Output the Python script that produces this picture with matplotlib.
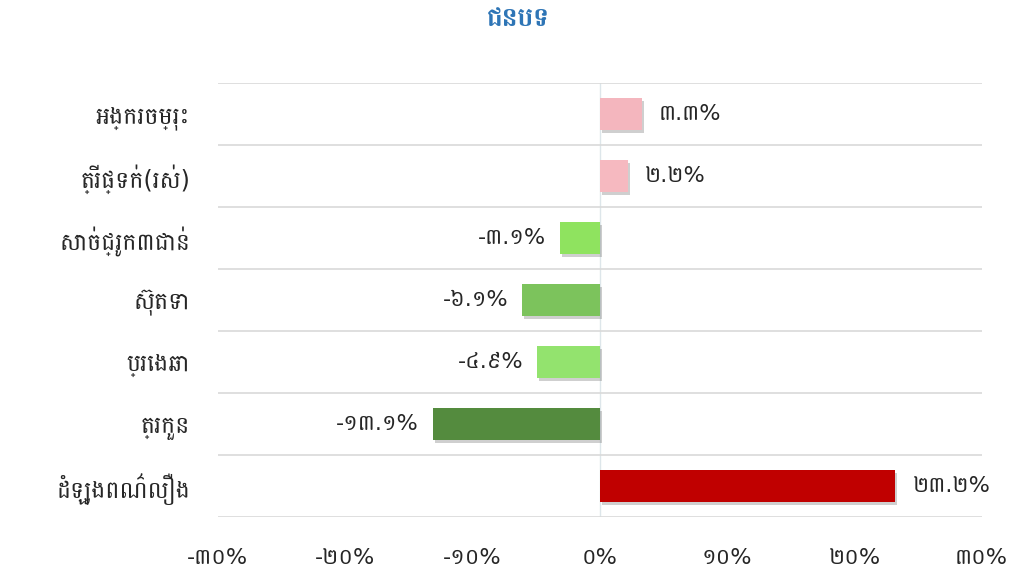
import matplotlib
matplotlib.use("Agg")
import matplotlib.pyplot as plt
import matplotlib.patheffects as pe
from matplotlib import font_manager
from matplotlib.ft2font import FT2Font
import numpy as np

# Data
categories = ["អង្ករចម្រុះ", "ត្រីផ្ទក់(រស់)", "សាច់ជ្រូក៣ជាន់", "ស៊ុតទា",
              "ប្រេងឆា", "ត្រកួន", "ដំឡូងពណ៌លឿង"]
values = [3.3, 2.2, -3.1, -6.1, -4.9, -13.1, 23.2]
value_labels = ["៣.៣%", "២.២%", "-៣.១%", "-៦.១%", "-៤.៩%", "-១៣.១%", "២៣.២%"]
bar_colors = ["#f4b6be", "#f6b9c0", "#8fe35f", "#7cc35c", "#93e36e", "#548b3e", "#c00000"]
tick_values = [-30, -20, -10, 0, 10, 20, 30]
tick_labels = ["-៣០%", "-២០%", "-១០%", "០%", "១០%", "២០%", "៣០%"]
title = "ជនបទ"


# pick a font with Khmer glyphs, Battambang if it is there
def find_khmer_font():
    names = []
    for f in font_manager.fontManager.ttflist:
        try:
            if 0x1780 in FT2Font(f.fname).get_charmap():
                names.append(f.name)
        except Exception:
            pass
    for want in ["Battambang", "Noto Sans Khmer", "Khmer OS", "Hanuman", "Angkor"]:
        if want in names:
            return want
    names = [n for n in names if "Unifont" not in n]
    return names[0] if names else None


khmer = find_khmer_font()
plt.rcParams["font.family"] = ["DejaVu Sans", khmer] if khmer else ["DejaVu Sans"]

fig = plt.figure(figsize=(10.13, 5.7), dpi=100)
ax = fig.add_axes([0.215, 0.093, 0.754, 0.761])

y = np.arange(len(categories))
bars = ax.barh(y, values, height=0.52, color=bar_colors, zorder=3)
for b in bars:
    b.set_path_effects([pe.SimplePatchShadow(offset=(1.5, -2), shadow_rgbFace="#777777", alpha=0.35),
                        pe.Normal()])

for yi, v, lab in zip(y, values, value_labels):
    if v >= 0:
        ax.text(v + 1.3, yi, lab, ha="left", va="center", fontsize=16, color="#262626")
    else:
        ax.text(v - 1.1, yi, lab, ha="right", va="center", fontsize=16, color="#262626")

ax.set_xlim(-30, 30)
ax.set_ylim(len(categories) - 0.5, -0.5)
ax.set_yticks(y)
ax.set_yticklabels(categories, fontsize=17, color="#262626")
ax.set_yticks(np.arange(len(categories) + 1) - 0.5, minor=True)
ax.set_xticks(tick_values)
ax.set_xticklabels(tick_labels, fontsize=16, color="#262626")
ax.tick_params(axis="y", which="both", length=0, pad=20)
ax.tick_params(axis="x", length=0, pad=22)

ax.grid(which="minor", axis="y", color="#d9d9d9", linewidth=1.2, zorder=0)
ax.grid(which="major", visible=False)
ax.axvline(0, color="#dde6ea", linewidth=1, zorder=1)
for s in ax.spines.values():
    s.set_visible(False)

fig.suptitle(title, x=0.512, y=0.99, fontsize=19, color="#2e75b6", fontweight="bold")

fig.savefig("out.png", dpi=100)
